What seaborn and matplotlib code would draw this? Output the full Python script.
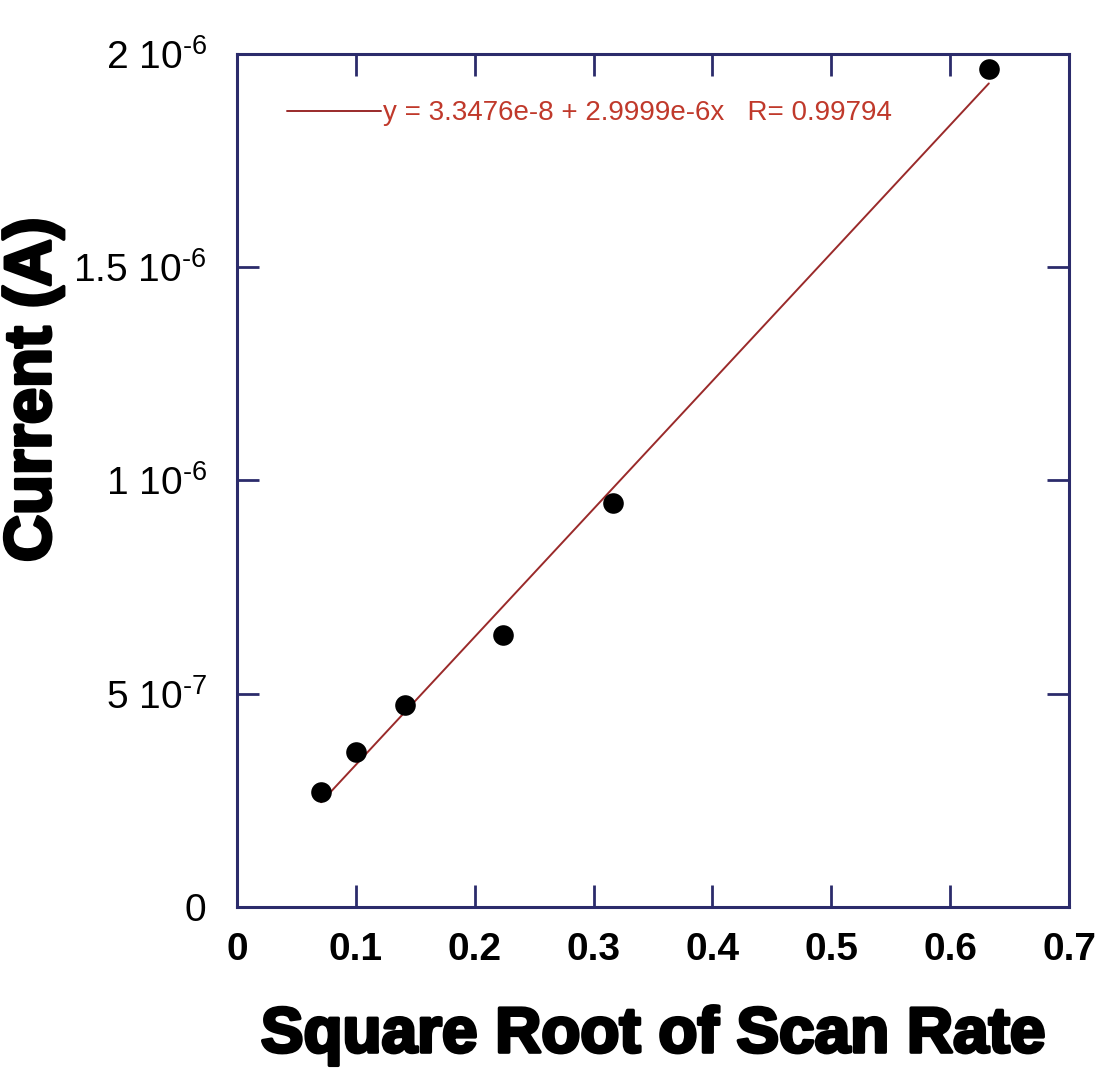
import numpy as np
import pandas as pd
import matplotlib
matplotlib.use("Agg")
import matplotlib.pyplot as plt
import seaborn as sns
import matplotlib.patheffects as pe

# Data
sqrt_scan_rate = [0.0707, 0.1, 0.1414, 0.2236, 0.3162, 0.6325]
current = [0.270e-6, 0.364e-6, 0.474e-6, 0.638e-6, 0.948e-6, 1.965e-6]
fit_intercept = 3.3476e-8
fit_slope = 2.9999e-6
fit_r = 0.99794
x_ticks = [0, 0.1, 0.2, 0.3, 0.4, 0.5, 0.6, 0.7]
x_tick_labels = ["0", "0.1", "0.2", "0.3", "0.4", "0.5", "0.6", "0.7"]
y_ticks = [0, 5e-7, 1e-6, 1.5e-6, 2e-6]
y_tick_labels = ["0", "5 10$^{‐7}$", "1 10$^{‐6}$", "1.5 10$^{‐6}$", "2 10$^{‐6}$"]

sns.set_theme(style="ticks")
plt.rcParams['font.family'] = ['Liberation Sans', 'DejaVu Sans']
plt.rcParams['mathtext.default'] = 'regular'
plt.rcParams['text.color'] = 'black'
plt.rcParams['xtick.labelcolor'] = 'black'
plt.rcParams['ytick.labelcolor'] = 'black'

df = pd.DataFrame({"x": sqrt_scan_rate, "y": current})
xs = np.array([min(sqrt_scan_rate), max(sqrt_scan_rate)])
fit_df = pd.DataFrame({"x": xs, "y": fit_intercept + fit_slope * xs})

fig = plt.figure(figsize=(11.01, 10.75), dpi=100)
ax = fig.add_axes([0.2153, 0.1563, 0.971 - 0.2153, 0.9498 - 0.1563])

navy = "#2b2b6b"
sns.lineplot(data=fit_df, x="x", y="y", ax=ax, color="#9a2a2a", linewidth=1.4,
             label=f"y = 3.3476e-8 + 2.9999e-6x   R= {fit_r}")
sns.scatterplot(data=df, x="x", y="y", ax=ax, color="black", s=220, edgecolor="black",
                linewidth=0, zorder=5, legend=False)

ax.set_xlim(0, 0.7)
ax.set_ylim(0, 2e-6)
ax.set_xticks(x_ticks)
ax.set_xticklabels(x_tick_labels, fontsize=28, fontweight="bold")
ax.set_yticks(y_ticks)
ax.set_yticklabels(y_tick_labels, fontsize=28)
ax.tick_params(axis="both", direction="in", length=16, width=2, color=navy,
               top=True, right=True, pad=22)
ax.tick_params(axis="x", pad=18)
for sp in ax.spines.values():
    sp.set_visible(True)
    sp.set_color(navy)
    sp.set_linewidth(2.2)

heavy = [pe.withStroke(linewidth=2.5, foreground="black")]
xl = ax.set_xlabel("Square Root of Scan Rate", fontsize=46, fontweight="bold",
                   color="black")
xl.set_path_effects(heavy)
ax.xaxis.set_label_coords(0.5, -0.115)
yl = ax.set_ylabel("Current (A)", fontsize=47, fontweight="bold", color="black")
yl.set_path_effects(heavy)
ax.yaxis.set_label_coords(-0.209, 0.606)

leg = ax.legend(loc="upper left", bbox_to_anchor=(0.03, 0.975), frameon=False,
                fontsize=20, handlelength=3.4, handletextpad=0.05, labelcolor="#c0392b")

fig.savefig("out.png", dpi=100)
